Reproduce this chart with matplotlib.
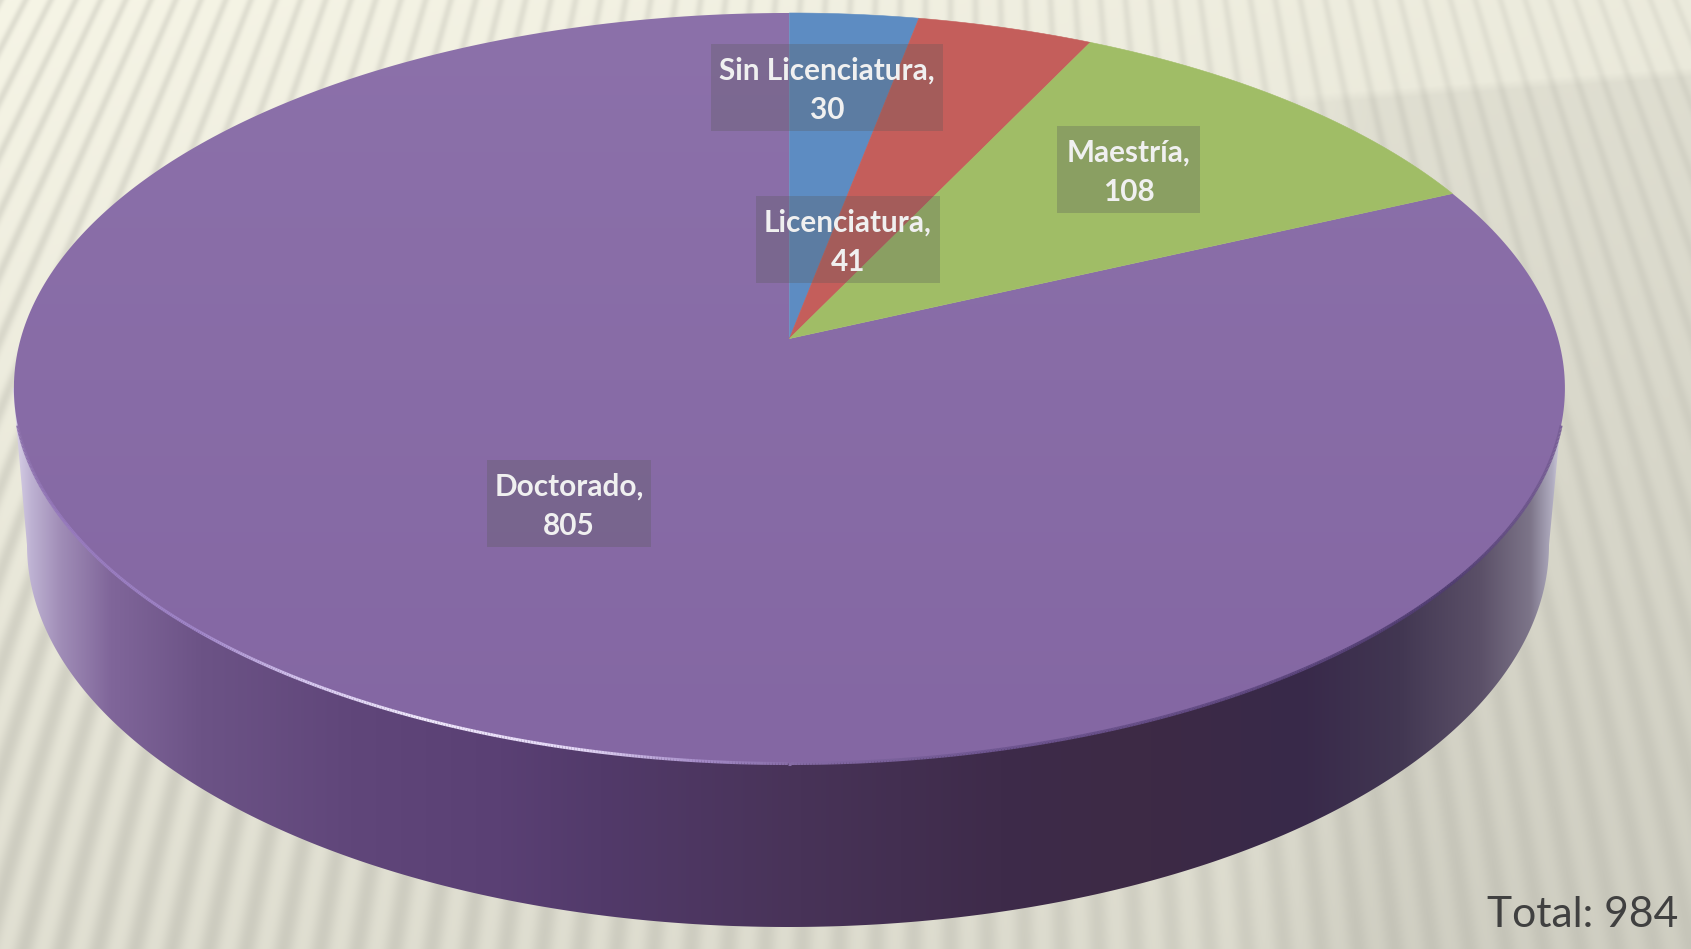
import numpy as np
import matplotlib
matplotlib.use("Agg")
import matplotlib.pyplot as plt
from matplotlib.colors import to_rgb
from matplotlib.patches import Polygon, Rectangle
from matplotlib.collections import LineCollection

W, H = 1691, 949

# chart data
categories = ["Sin Licenciatura", "Licenciatura", "Maestría", "Doctorado"]
values = [30, 41, 108, 805]
slice_colors = ["#5D8CC2", "#C45E5B", "#A0BD66", "#8A6EA8"]
total_label = "Total: 984"

# label boxes: left, top, right, bottom in pixels
label_boxes = [(711, 44, 943, 131), (756, 196, 940, 283), (1057, 126, 1200, 213), (487, 460, 651, 547)]

# disc geometry in pixels, the disc is seen in perspective
apex_x, apex_y = 789.4, 338.6
k = 0.1323
a = -323.9
R = 768.7


def project(theta):
    # theta clockwise from 12 o'clock
    u, v = np.sin(theta), np.cos(theta)
    d = 1 + k * v
    return apex_x + R * u / d, (a * v + apex_y) / d


def interp_colors(x, stops):
    xs = [s[0] for s in stops]
    rgb = np.array([to_rgb(s[1]) for s in stops])
    return np.stack([np.interp(x, xs, rgb[:, i]) for i in range(3)], axis=-1)


fig = plt.figure(figsize=(W / 100, H / 100), dpi=100)
ax = fig.add_axes([0, 0, 1, 1])

# background: fanned stripes on a cream gradient
yy, xx = np.mgrid[0:H, 0:W]
fx, fy = xx / W, yy / H
left = 0.965 - 0.085 * fy
right = 0.925 - 0.07 * fy
shade = left + (right - left) * fx
edge = 90 - 0.07 * (xx - 1358)
shadow = np.clip((yy - edge) / 10, 0, 1) * np.clip((xx - 1230) / 140, 0, 1)
shade = shade * (1 - 0.05 * shadow)
scale = np.exp(0.00056 * yy - 0.00026 / 1700 * yy ** 2)
phase = (xx - 950) / scale / 25.0
power = 4.0 - 2.8 * np.clip(fy * 1.4, 0, 1)
stripe = (0.5 + 0.5 * np.cos(2 * np.pi * phase)) ** power
amp = 0.09 - 0.045 * fx
shade = shade * (1 - amp * stripe)
tint = np.array([1.0, 0.995, 0.935])
bg = np.clip(shade[..., None] * tint, 0, 1)
ax.imshow(bg, extent=(0, W, H, 0), aspect="auto", zorder=0, interpolation="bilinear")

# side wall
wall_stops = [(13, "#DCD6EA"), (30, "#BFB3D3"), (60, "#A08DB7"), (110, "#80669A"), (200, "#6C5386"),
              (350, "#60467A"), (500, "#5A4074"), (600, "#523A6A"), (800, "#483358"), (1000, "#3E2B4A"),
              (1150, "#3D2A45"), (1300, "#38294A"), (1400, "#423752"), (1480, "#5B5068"), (1530, "#7D7589"),
              (1552, "#B0ACC0"), (1564, "#E0DEEC")]
low_t = np.linspace(np.pi, 0, 300)
low_x = 788 + 761 * np.cos(low_t)
low_y = 545 + 382 * np.sin(low_t)
wall_xy = np.vstack([[[13, 388]], np.column_stack([low_x, low_y]), [[1564, 388]]])
wall = Polygon(wall_xy, closed=True, facecolor="none", edgecolor="none", transform=ax.transData)
ax.add_patch(wall)
grad = interp_colors(np.arange(W), wall_stops)[None, :, :]
im = ax.imshow(grad, extent=(0, W, H, 0), aspect="auto", zorder=1)
im.set_clip_path(wall)

# top of the disc, one polygon per slice
edges = np.concatenate([[0], np.cumsum(values)]) / sum(values) * 2 * np.pi
for i in range(len(values)):
    th = np.linspace(edges[i], edges[i + 1], 400)
    px, py = project(th)
    xy = np.vstack([[[apex_x, apex_y]], np.column_stack([px, py])])
    if categories[i] == "Doctorado":
        patch = Polygon(xy, closed=True, facecolor="none", edgecolor="none")
        ax.add_patch(patch)
        top_grad = interp_colors(fy, [(0, "#8C71AA"), (0.8, "#8467A3")])
        top_im = ax.imshow(top_grad, extent=(0, W, H, 0), aspect="auto", zorder=2)
        top_im.set_clip_path(patch)
    else:
        ax.add_patch(Polygon(xy, closed=True, facecolor=slice_colors[i], edgecolor=slice_colors[i], lw=0.4, zorder=3))

# rim highlight on the front edge, only below the widest part of the disc
rim_t = np.linspace(np.pi * 0.5, np.pi * 1.5, 900)
rx, ry = project(rim_t)
keep = ry > 425
rx, ry = rx[keep], ry[keep]
segs = np.stack([np.column_stack([rx[:-1], ry[:-1]]), np.column_stack([rx[1:], ry[1:]])], axis=1)
rim_stops = [(13, "#8A6FA8"), (60, "#9679BC"), (200, "#A086C8"), (300, "#D4C5EE"), (420, "#EFE8FB"),
             (580, "#E4D8F6"), (700, "#A58CC8"), (800, "#846AA4"), (1000, "#6E5590"), (1250, "#5F4880"),
             (1450, "#4F3C70"), (1564, "#7A6098")]
rim = LineCollection(segs, colors=interp_colors(rx[:-1], rim_stops), linewidths=2.2, zorder=4, capstyle="butt")
ax.add_collection(rim)

# labels
for cat, val, box in zip(categories, values, label_boxes):
    x0, y0, x1, y1 = box
    ax.add_patch(Rectangle((x0, y0), x1 - x0, y1 - y0, facecolor="#5A5A5A", alpha=0.3, edgecolor="none", zorder=5))
    ax.text((x0 + x1) / 2, (y0 + y1) / 2 + 3, f"{cat},\n{val}", color="#F0F0F0", family="Lato", weight="bold",
            fontsize=21.4, ha="center", va="center", linespacing=1.5, zorder=6)

ax.text(1678, 915, total_label, color="#404040", family="Lato", fontsize=30.7, ha="right", va="center", zorder=6)

ax.set_xlim(0, W)
ax.set_ylim(H, 0)
ax.axis("off")
fig.savefig("out.png", dpi=100)
